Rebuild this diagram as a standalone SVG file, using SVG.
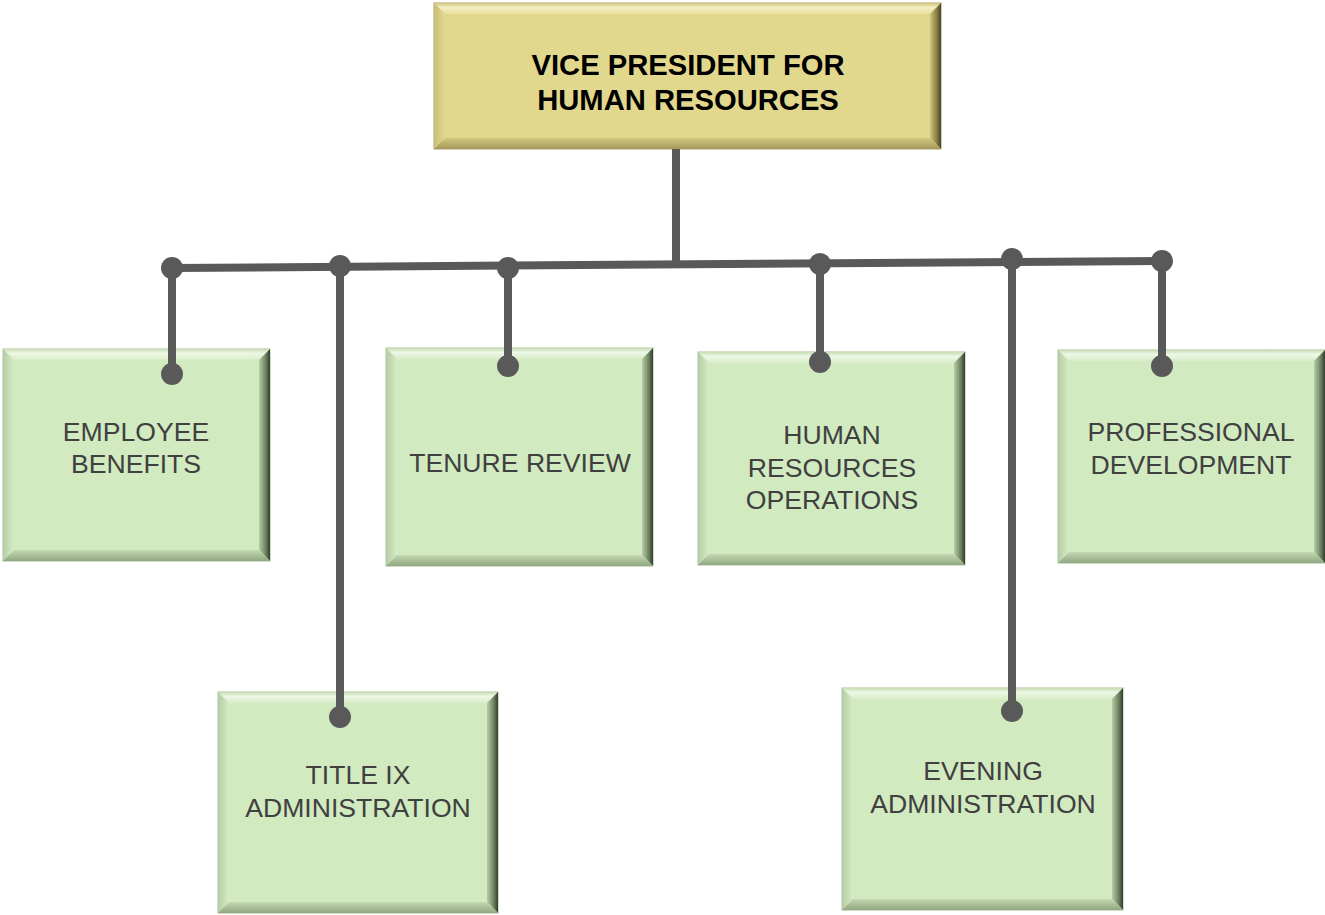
<svg xmlns="http://www.w3.org/2000/svg" width="1325" height="915" viewBox="0 0 1325 915">
<defs>
<linearGradient id="gTop" x1="0" y1="0" x2="0" y2="1"><stop offset="0" stop-color="#c6dcb5"/><stop offset="0.4" stop-color="#eef8e6"/><stop offset="1" stop-color="#d8edc9"/></linearGradient>
<linearGradient id="gRight" x1="0" y1="0" x2="1" y2="0"><stop offset="0" stop-color="#b7cda6"/><stop offset="0.6" stop-color="#6f8462"/><stop offset="1" stop-color="#323d2d"/></linearGradient>
<linearGradient id="gBot" x1="0" y1="0" x2="0" y2="1"><stop offset="0" stop-color="#c4d9b2"/><stop offset="1" stop-color="#90a781"/></linearGradient>
<linearGradient id="gLeft" x1="0" y1="0" x2="1" y2="0"><stop offset="0" stop-color="#b5cba4"/><stop offset="1" stop-color="#d6ecc7"/></linearGradient>
<linearGradient id="yTop" x1="0" y1="0" x2="0" y2="1"><stop offset="0" stop-color="#cfc47c"/><stop offset="0.4" stop-color="#f4eec4"/><stop offset="1" stop-color="#e8df9c"/></linearGradient>
<linearGradient id="yRight" x1="0" y1="0" x2="1" y2="0"><stop offset="0" stop-color="#cfc47a"/><stop offset="0.6" stop-color="#8a8045"/><stop offset="1" stop-color="#4a4424"/></linearGradient>
<linearGradient id="yBot" x1="0" y1="0" x2="0" y2="1"><stop offset="0" stop-color="#d3c880"/><stop offset="1" stop-color="#a39858"/></linearGradient>
<linearGradient id="yLeft" x1="0" y1="0" x2="1" y2="0"><stop offset="0" stop-color="#c9be76"/><stop offset="1" stop-color="#e3d98f"/></linearGradient>
</defs>
<style>
.gb{fill:#d1eac0;stroke:#a8bd98;stroke-width:1}
.yb{fill:#e2d88d;stroke:#a8a070;stroke-width:1}
.t{font-family:"Liberation Sans",Arial,sans-serif;font-size:26.6px;fill:#404040;text-anchor:middle}
.vt{font-family:"Liberation Sans",Arial,sans-serif;font-size:29.2px;font-weight:bold;fill:#000;text-anchor:middle}
.ln{stroke:#595959;stroke-width:8;fill:none}
.dot{fill:#595959}
</style>
<rect width="1325" height="915" fill="#fff"/>

<g id="vp">
<rect class="yb" x="434" y="3" width="507" height="146"/>
<polygon fill="url(#yTop)" points="434,3 941,3 930,14 445,14"/>
<polygon fill="url(#yLeft)" points="434,3 445,14 445,138 434,149"/>
<polygon fill="url(#yRight)" points="941,3 941,149 930,138 930,14"/>
<polygon fill="url(#yBot)" points="434,149 941,149 930,138 445,138"/>
<text class="vt" x="688" y="75">VICE PRESIDENT FOR</text>
<text class="vt" x="688" y="110">HUMAN RESOURCES</text>
</g>

<g id="employee-benefits">
<rect class="gb" x="3" y="349" width="267" height="212"/>
<polygon fill="url(#gTop)" points="3,349 270,349 259,360 14,360"/>
<polygon fill="url(#gLeft)" points="3,349 14,360 14,550 3,561"/>
<polygon fill="url(#gRight)" points="270,349 270,561 259,550 259,360"/>
<polygon fill="url(#gBot)" points="3,561 270,561 259,550 14,550"/>
<text class="t" x="136" y="441">EMPLOYEE</text>
<text class="t" x="136" y="473">BENEFITS</text>
</g>

<g id="tenure-review">
<rect class="gb" x="386" y="348" width="267" height="218"/>
<polygon fill="url(#gTop)" points="386,348 653,348 642,359 397,359"/>
<polygon fill="url(#gLeft)" points="386,348 397,359 397,555 386,566"/>
<polygon fill="url(#gRight)" points="653,348 653,566 642,555 642,359"/>
<polygon fill="url(#gBot)" points="386,566 653,566 642,555 397,555"/>
<text class="t" x="520" y="472">TENURE REVIEW</text>
</g>

<g id="hr-operations">
<rect class="gb" x="698" y="352" width="267" height="213"/>
<polygon fill="url(#gTop)" points="698,352 965,352 954,363 709,363"/>
<polygon fill="url(#gLeft)" points="698,352 709,363 709,554 698,565"/>
<polygon fill="url(#gRight)" points="965,352 965,565 954,554 954,363"/>
<polygon fill="url(#gBot)" points="698,565 965,565 954,554 709,554"/>
<text class="t" x="832" y="444">HUMAN</text>
<text class="t" x="832" y="477">RESOURCES</text>
<text class="t" x="832" y="509">OPERATIONS</text>
</g>

<g id="professional-development">
<rect class="gb" x="1058" y="350" width="267" height="213"/>
<polygon fill="url(#gTop)" points="1058,350 1325,350 1314,361 1069,361"/>
<polygon fill="url(#gLeft)" points="1058,350 1069,361 1069,552 1058,563"/>
<polygon fill="url(#gRight)" points="1325,350 1325,563 1314,552 1314,361"/>
<polygon fill="url(#gBot)" points="1058,563 1325,563 1314,552 1069,552"/>
<text class="t" x="1191" y="441">PROFESSIONAL</text>
<text class="t" x="1191" y="474">DEVELOPMENT</text>
</g>

<g id="title-ix">
<rect class="gb" x="218" y="692" width="280" height="221"/>
<polygon fill="url(#gTop)" points="218,692 498,692 487,703 229,703"/>
<polygon fill="url(#gLeft)" points="218,692 229,703 229,902 218,913"/>
<polygon fill="url(#gRight)" points="498,692 498,913 487,902 487,703"/>
<polygon fill="url(#gBot)" points="218,913 498,913 487,902 229,902"/>
<text class="t" x="358" y="784">TITLE IX</text>
<text class="t" x="358" y="817">ADMINISTRATION</text>
</g>

<g id="evening-administration">
<rect class="gb" x="842" y="688" width="281" height="222"/>
<polygon fill="url(#gTop)" points="842,688 1123,688 1112,699 853,699"/>
<polygon fill="url(#gLeft)" points="842,688 853,699 853,899 842,910"/>
<polygon fill="url(#gRight)" points="1123,688 1123,910 1112,899 1112,699"/>
<polygon fill="url(#gBot)" points="842,910 1123,910 1112,899 853,899"/>
<text class="t" x="983" y="780">EVENING</text>
<text class="t" x="983" y="813">ADMINISTRATION</text>
</g>

<g id="connectors">
<line class="ln" x1="676" y1="149" x2="676" y2="265"/>
<line class="ln" x1="172" y1="268" x2="1162" y2="261"/>
<line class="ln" x1="172" y1="268" x2="172" y2="374"/>
<line class="ln" x1="340" y1="267" x2="340" y2="717"/>
<line class="ln" x1="508" y1="266" x2="508" y2="366"/>
<line class="ln" x1="820" y1="263" x2="820" y2="362"/>
<line class="ln" x1="1012" y1="260" x2="1012" y2="711"/>
<line class="ln" x1="1162" y1="261" x2="1162" y2="366"/>
<circle class="dot" cx="172" cy="268" r="11"/>
<circle class="dot" cx="172" cy="374" r="11"/>
<circle class="dot" cx="340" cy="266" r="11"/>
<circle class="dot" cx="340" cy="717" r="11"/>
<circle class="dot" cx="508" cy="268" r="11"/>
<circle class="dot" cx="508" cy="366" r="11"/>
<circle class="dot" cx="820" cy="264" r="11"/>
<circle class="dot" cx="820" cy="362" r="11"/>
<circle class="dot" cx="1012" cy="259" r="11"/>
<circle class="dot" cx="1012" cy="711" r="11"/>
<circle class="dot" cx="1162" cy="261" r="11"/>
<circle class="dot" cx="1162" cy="366" r="11"/>
</g>
</svg>
